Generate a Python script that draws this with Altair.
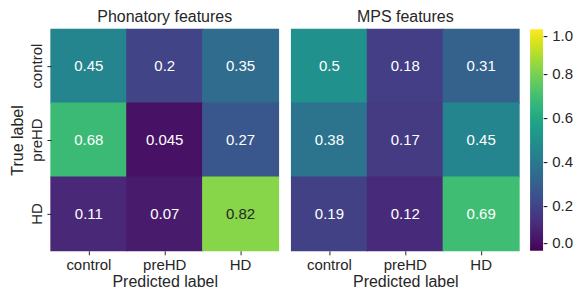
import altair as alt
import pandas as pd

labels = ["control", "preHD", "HD"]
phon = [[0.45, 0.2, 0.35], [0.68, 0.045, 0.27], [0.11, 0.07, 0.82]]
mps = [[0.5, 0.18, 0.31], [0.38, 0.17, 0.45], [0.19, 0.12, 0.69]]
titles = ["Phonatory features", "MPS features"]
text_vals = {0.45: "0.45", 0.2: "0.2", 0.35: "0.35", 0.68: "0.68", 0.045: "0.045",
             0.27: "0.27", 0.11: "0.11", 0.07: "0.07", 0.82: "0.82", 0.5: "0.5",
             0.18: "0.18", 0.31: "0.31", 0.38: "0.38", 0.17: "0.17", 0.19: "0.19",
             0.12: "0.12", 0.69: "0.69"}

FONT = "Liberation Sans"
TXT = "#262626"


def make_df(mat):
    rows = []
    for i, t in enumerate(labels):
        for j, p in enumerate(labels):
            v = mat[i][j]
            rows.append({"true": t, "pred": p, "v": v, "lab": text_vals[v],
                         "light": v > 0.75})
    return pd.DataFrame(rows)


def panel(mat, title, show_y):
    df = make_df(mat)
    base = alt.Chart(df)
    yaxis = alt.Axis(title="True label", labelAngle=270, labelAlign="center",
                     labelBaseline="bottom", labelFontSize=15, titleFontSize=16,
                     titleFontWeight="normal", titleFont=FONT, labelFont=FONT,
                     labelColor=TXT, titleColor=TXT, tickColor=TXT, tickSize=4,
                     domain=False, labelPadding=2, titlePadding=4) if show_y else None
    rect = base.mark_rect(width=alt.RelativeBandSize(1.015),
                          height=alt.RelativeBandSize(1.015)).encode(
        x=alt.X("pred:N", sort=labels, title="Predicted label",
                axis=alt.Axis(labelAngle=0, labelFontSize=15, titleFontSize=16,
                              titleFontWeight="normal", titleFont=FONT, labelFont=FONT,
                              labelColor=TXT, titleColor=TXT, tickColor=TXT,
                              tickSize=4, domain=False, labelPadding=3, titlePadding=1)),
        y=alt.Y("true:N", sort=labels, axis=yaxis),
        color=alt.Color("v:Q", scale=alt.Scale(scheme="viridis", domain=[0, 1]),
                        legend=alt.Legend(title=None, gradientLength=222,
                                          gradientThickness=13, values=[0, 0.2, 0.4, 0.6, 0.8, 1.0],
                                          format=".1f", labelFontSize=15, labelColor=TXT,
                                          labelOverlap=False, offset=10, labelFont=FONT,
                                          labelOffset=0, labelBaseline="middle",
                                          labelExpr="'- ' + datum.label")),
    )
    text = base.mark_text(fontSize=15, font=FONT).encode(
        x=alt.X("pred:N", sort=labels),
        y=alt.Y("true:N", sort=labels),
        text="lab:N",
        color=alt.condition("datum.light", alt.value(TXT), alt.value("#ffffff")),
    )
    return alt.layer(rect, text).properties(
        width=228, height=222,
        title=alt.TitleParams(title, fontSize=16, fontWeight="normal", color=TXT,
                              font=FONT, offset=4),
    )


chart = alt.hconcat(panel(phon, titles[0], True), panel(mps, titles[1], False),
                    spacing=11).resolve_scale(color="shared").configure(
    font=FONT, padding={"top": 0, "left": 2, "right": 0, "bottom": 0}
).configure_view(stroke=None).configure_scale(bandPaddingInner=0, bandPaddingOuter=0)

chart.save("out.html", embed_options={"renderer": "svg", "actions": False})
